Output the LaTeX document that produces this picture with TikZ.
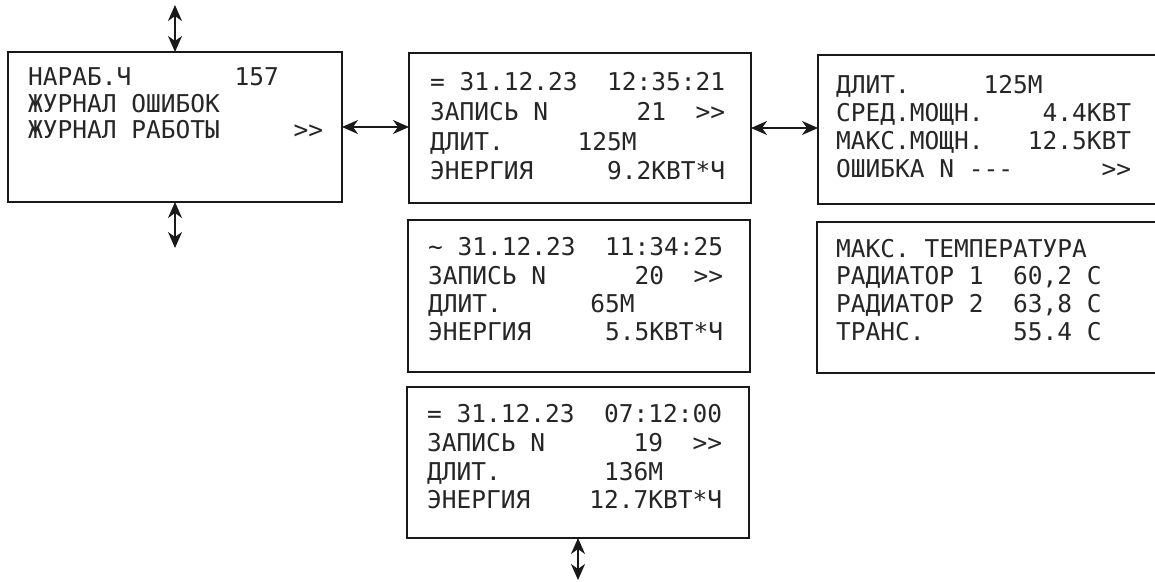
\documentclass[tikz,border=0pt]{standalone}
\usepackage{fontspec}
\setmonofont{DejaVu Sans Mono}
\usetikzlibrary{arrows.meta}
\begin{document}
\begin{tikzpicture}[x=1pt,y=-1pt,
  box/.style={draw=black!90, line width=1.7pt, rectangle, anchor=north west, inner sep=0pt, outer sep=0pt},
  txt/.style={anchor=base west, inner sep=0pt, font=\ttfamily\fontsize{24.5}{29}\selectfont, text=black!85},
  nav/.style={line width=1.7pt, draw=black!90, {Stealth[length=16pt,width=14pt,inset=5pt]}-{Stealth[length=16pt,width=14pt,inset=5pt]}}]
\useasboundingbox (0,0) rectangle (1155,581);
\clip (0,0) rectangle (1155,581);
\fill[white] (0,0) rectangle (1155,581);
% boxes
\node[box, minimum width=334pt, minimum height=150pt] (A) at (8,52) {};
\node[box, minimum width=342pt, minimum height=150pt] (B1) at (409,53) {};
\node[box, minimum width=342pt, minimum height=152pt] (B2) at (408,220) {};
\node[box, minimum width=342pt, minimum height=151pt] (B3) at (407,387) {};
\node[box, minimum width=400pt, minimum height=149pt] (C1) at (818,55) {};
\node[box, minimum width=400pt, minimum height=151pt] (C2) at (817,222) {};
% free ends
\coordinate (Atop) at (175,5);
\coordinate (Abot) at (175,248);
\coordinate (Bbot) at (578,580);
% connectors
\draw[nav] (Atop) -- (A.north);
\draw[nav] (A.south) -- (Abot);
\draw[nav] (A.east) -- (A.east -| B1.west);
\draw[nav] (B1.east) -- (B1.east -| C1.west);
\draw[nav] (B3.south) -- (Bbot);
% texts A
\node[txt] (a1) at (28,85)  {НАРАБ.Ч~~~~~~~157};
\node[txt] (a2) at (28,112) {ЖУРНАЛ~ОШИБОК};
\node[txt] (a3) at (28,138) {ЖУРНАЛ~РАБОТЫ~~~~~>>};
% texts B1
\node[txt] (b11) at (430,90)  {=~31.12.23~~12:35:21};
\node[txt] (b12) at (430,120) {ЗАПИСЬ~N~~~~~~21~~>>};
\node[txt] (b13) at (430,150) {ДЛИТ.~~~~~125М};
\node[txt] (b14) at (430,179) {ЭНЕРГИЯ~~~~~9.2КВТ*Ч};
% texts B2
\node[txt] (b21) at (428,255) {\textasciitilde~31.12.23~~11:34:25};
\node[txt] (b22) at (428,284) {ЗАПИСЬ~N~~~~~~20~~>>};
\node[txt] (b23) at (428,312) {ДЛИТ.~~~~~~65М};
\node[txt] (b24) at (428,340) {ЭНЕРГИЯ~~~~~5.5КВТ*Ч};
% texts B3
\node[txt] (b31) at (427,422) {=~31.12.23~~07:12:00};
\node[txt] (b32) at (427,451) {ЗАПИСЬ~N~~~~~~19~~>>};
\node[txt] (b33) at (427,480) {ДЛИТ.~~~~~~~136М};
\node[txt] (b34) at (427,508) {ЭНЕРГИЯ~~~~12.7КВТ*Ч};
% texts C1
\node[txt] (c11) at (836,93)  {ДЛИТ.~~~~~125М};
\node[txt] (c12) at (836,121) {СРЕД.МОЩН.~~~~4.4КВТ};
\node[txt] (c13) at (836,149) {МАКС.МОЩН.~~~12.5КВТ};
\node[txt] (c14) at (836,177) {ОШИБКА~N~-{}-{}-~~~~~~>>};
% texts C2
\node[txt] (c21) at (836,257) {МАКС.~ТЕМПЕРАТУРА};
\node[txt] (c22) at (836,284) {РАДИАТОР~1~~60,2~С};
\node[txt] (c23) at (836,312) {РАДИАТОР~2~~63,8~С};
\node[txt] (c24) at (836,340) {ТРАНС.~~~~~~55.4~С};
\end{tikzpicture}
\end{document}
